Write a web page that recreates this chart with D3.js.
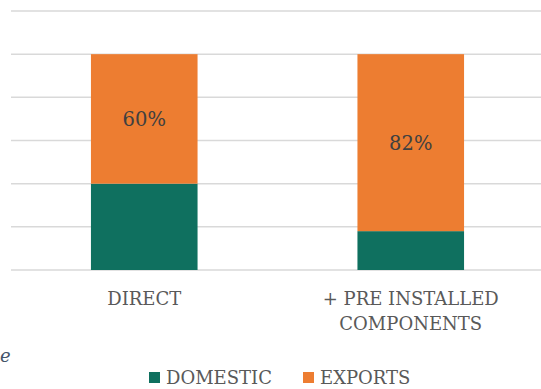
<!DOCTYPE html>
<html>
<head>
<meta charset="utf-8">
<script src="https://cdn.jsdelivr.net/npm/d3@7"></script>
<style>
  html, body { margin: 0; padding: 0; background: #fff; }
  svg { display: block; }
</style>
</head>
<body>
<svg id="chart" width="541" height="389" font-family="'DejaVu Serif', serif"></svg>
<script>
const categories = [["DIRECT"], ["+ PRE INSTALLED", "COMPONENTS"]]
const domestic = [0.40, 0.18]
const exports = [0.60, 0.82]
const seriesNames = ["DOMESTIC", "EXPORTS"]
const yTicks = [0, 0.2, 0.4, 0.6, 0.8, 1.0, 1.2]

const colors = { DOMESTIC: "#0f705f", EXPORTS: "#ed7d31" }

const svg = d3.select("#chart")
const W = 541, H = 389
const mLeft = 11, mRight = 544, mTop = 11, mBottom = 270

const keys = categories.map((c) => c.join(" "))
const x = d3.scaleBand()
  .domain(keys)
  .range([mLeft, mRight])
  .paddingInner(0.6)
  .paddingOuter(0.3)

const y = d3.scaleLinear()
  .domain([0, 1.2])
  .range([mBottom, mTop])

// gridlines
svg.append("g")
  .selectAll("line")
  .data(yTicks)
  .enter().append("line")
    .attr("x1", mLeft).attr("x2", W)
    .attr("y1", (d) => y(d)).attr("y2", (d) => y(d))
    .attr("stroke", "#d9d9d9")
    .attr("stroke-width", 1.5)

const rows = keys.map((k, i) => ({ key: k, DOMESTIC: domestic[i], EXPORTS: exports[i] }))
const stacked = d3.stack().keys(seriesNames)(rows)

svg.append("g")
  .selectAll("g")
  .data(stacked)
  .enter().append("g")
    .attr("fill", (s) => colors[s.key])
  .selectAll("rect")
  .data((s) => s)
  .enter().append("rect")
    .attr("x", (d) => x(d.data.key))
    .attr("width", x.bandwidth())
    .attr("y", (d) => y(d[1]))
    .attr("height", (d) => y(d[0]) - y(d[1]))

// data labels on exports segment
const expLayer = stacked[1]
svg.append("g")
  .selectAll("text")
  .data(expLayer)
  .enter().append("text")
    .attr("x", (d) => x(d.data.key) + x.bandwidth() / 2)
    .attr("y", (d) => (y(d[0]) + y(d[1])) / 2)
    .attr("dy", "0.36em")
    .attr("text-anchor", "middle")
    .attr("font-size", 19.5)
    .attr("fill", "#404040")
    .text((d) => Math.round(d.data.EXPORTS * 100) + "%")

// category labels
const catG = svg.append("g")
categories.forEach((lines, i) => {
  const t = catG.append("text")
    .attr("x", x(keys[i]) + x.bandwidth() / 2)
    .attr("y", 305)
    .attr("text-anchor", "middle")
    .attr("font-size", 18)
    .attr("fill", "#595959")
  lines.forEach((ln, j) => {
    t.append("tspan")
      .attr("x", x(keys[i]) + x.bandwidth() / 2)
      .attr("dy", j === 0 ? 0 : 25)
      .text(ln)
  })
})

// legend
const legendX = [149, 303]
const legend = svg.append("g")
seriesNames.forEach((name, i) => {
  legend.append("rect")
    .attr("x", legendX[i]).attr("y", 372)
    .attr("width", 11).attr("height", 11)
    .attr("fill", colors[name])
  legend.append("text")
    .attr("x", legendX[i] + 17).attr("y", 384)
    .attr("font-size", 18)
    .attr("fill", "#595959")
    .text(name)
})

// fragment of neighbouring text at the left edge
svg.append("text")
  .attr("x", 0).attr("y", 362)
  .attr("font-size", 18)
  .attr("font-style", "italic")
  .attr("fill", "#44546a")
  .text("e")
</script>
</body>
</html>
